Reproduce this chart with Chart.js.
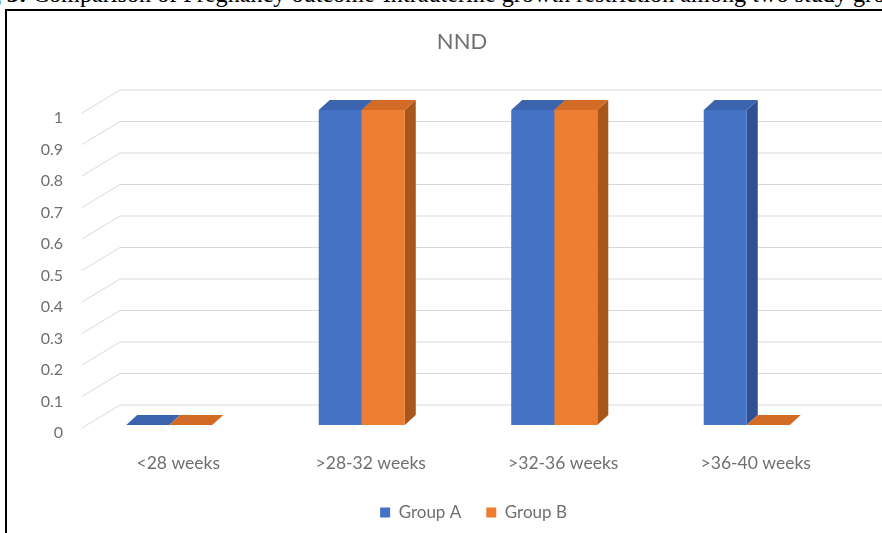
<!DOCTYPE html>
<html>
<head>
<meta charset="utf-8">
<title>NND</title>
<script src="https://cdn.jsdelivr.net/npm/chart.js@4.4.0/dist/chart.umd.min.js"></script>
<style>
  html, body { margin: 0; padding: 0; background: #fff; overflow: hidden; }
  body { width: 882px; height: 533px; position: relative; }
  #caption {
    position: absolute; left: -33px; top: -19px;
    font: 24.2px/25px "Liberation Serif", "Times New Roman", serif;
    white-space: nowrap; color: #000;
  }
  #frame {
    position: absolute; left: 5px; top: 9px; width: 920px; height: 560px;
    border-left: 2px solid #000; border-top: 2px solid #000;
  }
  #wrap { position: absolute; left: 0; top: 0; width: 882px; height: 533px; }
</style>
</head>
<body>
<div id="caption"><b>Fig 3:</b> Comparison of Pregnancy outcome-Intrauterine growth restriction among two study groups</div>
<div id="frame"></div>
<div id="wrap"><canvas id="nnd"></canvas></div>
<script>
// NND counts per gestational age band
const categories = ['<28 weeks', '>28-32 weeks', '>32-36 weeks', '>36-40 weeks'];
const groupA = [0, 1, 1, 1];
const groupB = [0, 1, 1, 0];
const yMin = 0;
const yMax = 1;
const yStep = 0.1;

const textGrey = '#6f6f6f';
const gridGrey = '#d9d9d9';

// front / top / side shades of each series
const faces = [
  { front: '#4472c4', top: '#3b63ae', side: '#2f5093' },
  { front: '#ed7d31', top: '#d26b25', side: '#a9561b' }
];

// fake 3D: slanted grid (wall + floor edge) and the top/side of every column
const depth3d = {
  id: 'depth3d',
  beforeDatasetsDraw(chart) {
    const { ctx, chartArea, scales } = chart;
    const y = scales.y;
    const frontX = chartArea.left + 9, backX = chartArea.left + 47;
    ctx.save();
    ctx.strokeStyle = gridGrey;
    ctx.lineWidth = 1;
    y.ticks.forEach(t => {
      const py = y.getPixelForValue(t.value);
      ctx.beginPath();
      ctx.moveTo(frontX, py + 3);
      ctx.lineTo(backX, py - 20);
      ctx.lineTo(chart.width, py - 20);
      ctx.stroke();
    });

    const dx = 11, dy = -10;
    chart.data.datasets.forEach((ds, i) => {
      const meta = chart.getDatasetMeta(i);
      meta.data.forEach(bar => {
        const { x, y: top, base, width } = bar.getProps(['x', 'y', 'base', 'width'], true);
        const l = x - width / 2, r = x + width / 2;
        ctx.fillStyle = faces[i].side;
        ctx.beginPath();
        ctx.moveTo(r, top);
        ctx.lineTo(r + dx, top + dy);
        ctx.lineTo(r + dx, base + dy);
        ctx.lineTo(r, base);
        ctx.closePath();
        ctx.fill();
        ctx.fillStyle = faces[i].top;
        ctx.beginPath();
        ctx.moveTo(l, top);
        ctx.lineTo(r, top);
        ctx.lineTo(r + dx, top + dy);
        ctx.lineTo(l + dx, top + dy);
        ctx.closePath();
        ctx.fill();
      });
    });
    ctx.restore();
  }
};

// title and legend sit over the plot, not over the whole box
const nudge = {
  id: 'nudge',
  afterLayout(chart) {
    chart.titleBlock.left += 40.5;
    chart.titleBlock.right += 40.5;
    chart.legend.left += 52;
    chart.legend.right += 52;
  }
};

Chart.defaults.font.family = "Lato, 'Open Sans', sans-serif";
Chart.defaults.color = textGrey;

new Chart(document.getElementById('nnd'), {
  type: 'bar',
  data: {
    labels: categories,
    datasets: [
      { label: 'Group A', data: groupA, backgroundColor: faces[0].front },
      { label: 'Group B', data: groupB, backgroundColor: faces[1].front }
    ]
  },
  options: {
    responsive: true,
    maintainAspectRatio: false,
    animation: false,
    categoryPercentage: 0.447,
    barPercentage: 1,
    layout: { padding: { top: 29, left: 0, right: 39, bottom: 2 } },
    scales: {
      x: {
        grid: { display: false, drawTicks: false },
        border: { display: false },
        ticks: { padding: 28, labelOffset: 9, font: { size: 17.5 }, color: textGrey },
        afterFit(scale) { scale.height = 54; }
      },
      y: {
        min: yMin,
        max: yMax,
        grid: { display: false, drawTicks: false },
        border: { display: false },
        ticks: {
          stepSize: yStep,
          padding: 10,
          labelOffset: 8,
          font: { size: 16 },
          color: textGrey,
          callback: v => String(+v.toFixed(1))
        },
        afterFit(scale) { scale.width = 73; }
      }
    },
    plugins: {
      title: {
        display: true,
        text: 'NND',
        font: { size: 22, weight: 'normal' },
        color: textGrey,
        padding: { top: 0, bottom: 54.6 }
      },
      legend: {
        position: 'bottom',
        labels: { boxWidth: 10, boxHeight: 10, padding: 25, font: { size: 17 }, color: textGrey }
      },
      tooltip: { enabled: false }
    }
  },
  plugins: [depth3d, nudge]
});
</script>
</body>
</html>
